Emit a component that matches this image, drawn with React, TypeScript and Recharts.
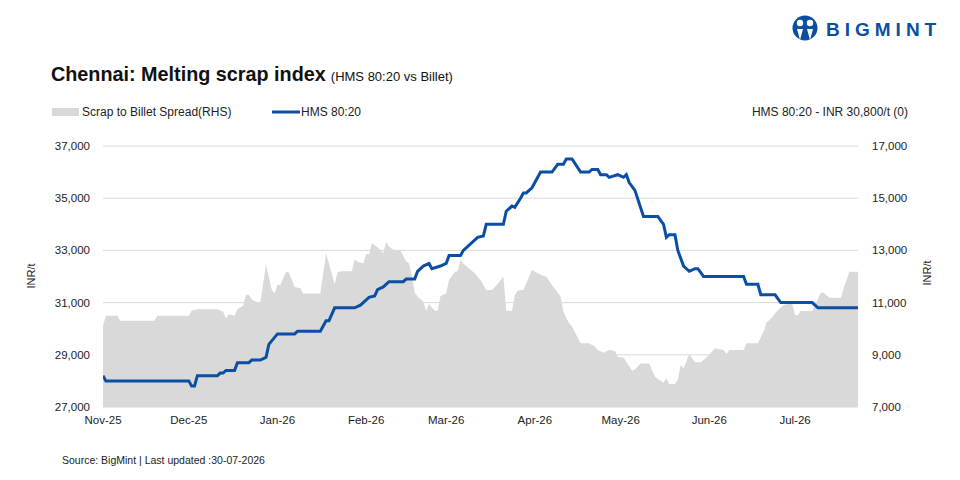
import React from "react";
import { ComposedChart, Area, Line, XAxis, YAxis, CartesianGrid } from "recharts";

// Days counted from 1 Nov 2025
const monthTicks = [0, 30, 61, 92, 120, 151, 181, 212, 242];
const monthLabels = ["Nov-25", "Dec-25", "Jan-26", "Feb-26", "Mar-26", "Apr-26", "May-26", "Jun-26", "Jul-26"];
const leftTicks = [27000, 29000, 31000, 33000, 35000, 37000];
const rightTicks = [7000, 9000, 11000, 13000, 15000, 17000];

const hmsDays = [0, 1, 30, 31, 32, 33, 40, 41, 42, 43, 46, 47, 51, 52, 55, 57, 58, 61, 67, 68, 76, 78, 79, 81, 88, 90, 91, 93, 95, 96, 98, 100, 105, 106, 109, 110, 112, 114, 115, 118, 120, 121, 125, 126, 129, 131, 133, 134, 140, 141, 143, 144, 146, 147, 148, 150, 153, 157, 159, 161, 162, 164, 167, 170, 171, 173, 174, 176, 177, 180, 182, 183, 184, 186, 189, 194, 196, 197, 198, 200, 201, 203, 205, 207, 208, 210, 224, 225, 229, 230, 235, 237, 248, 250, 264];
const hmsValues = [28200, 28000, 28000, 27800, 27800, 28200, 28200, 28300, 28300, 28400, 28400, 28700, 28700, 28800, 28800, 28900, 29400, 29800, 29800, 29900, 29900, 30300, 30300, 30800, 30800, 30900, 31000, 31200, 31250, 31500, 31600, 31800, 31800, 31900, 31900, 32200, 32400, 32500, 32300, 32400, 32500, 32800, 32800, 33000, 33300, 33500, 33550, 34000, 34000, 34500, 34700, 34650, 35000, 35200, 35200, 35400, 36000, 36000, 36300, 36300, 36500, 36500, 36000, 36000, 36100, 36100, 35900, 35900, 35800, 35900, 35800, 35900, 35600, 35300, 34300, 34300, 34000, 33500, 33600, 33600, 33000, 32400, 32200, 32300, 32300, 32000, 32000, 31700, 31700, 31300, 31300, 31000, 31000, 30800, 30800];

const spreadDays = [0, 1, 5, 6, 18, 19, 30, 31, 33, 40, 42, 43, 44, 46, 47, 49, 50, 51, 52, 54, 55, 57, 59, 60, 61, 62, 64, 65, 67, 69, 70, 76, 78, 81, 82, 83, 87, 88, 89, 91, 92, 93, 94, 96, 98, 99, 100, 102, 104, 106, 107, 108, 109, 110, 112, 113, 114, 116, 117, 118, 120, 121, 123, 124, 125, 126, 128, 130, 132, 134, 136, 138, 140, 141, 143, 144, 145, 147, 148, 150, 152, 154, 155, 157, 160, 161, 163, 164, 167, 170, 172, 173, 175, 177, 179, 180, 182, 185, 186, 188, 191, 193, 196, 197, 198, 200, 201, 202, 203, 205, 207, 209, 211, 214, 215, 217, 218, 219, 224, 225, 229, 231, 232, 234, 236, 238, 240, 241, 242, 243, 244, 248, 249, 251, 252, 254, 258, 259, 261, 264];
const spreadValues = [10100, 10500, 10500, 10300, 10300, 10500, 10500, 10700, 10750, 10750, 10650, 10400, 10550, 10500, 10750, 10880, 11300, 11300, 11130, 11000, 11000, 12450, 11500, 11350, 11670, 11670, 12180, 12150, 11600, 11550, 11350, 11350, 12900, 11700, 12150, 12200, 12200, 12650, 12570, 12500, 12860, 12850, 13270, 13120, 12890, 13330, 13140, 13010, 13000, 12570, 12500, 12000, 11380, 11230, 11030, 10690, 10950, 10690, 10690, 11250, 11350, 11870, 12180, 12200, 12630, 12500, 12310, 12120, 11870, 11480, 11480, 11710, 12000, 10690, 10690, 11290, 11460, 11480, 11740, 12250, 12120, 12020, 12000, 11670, 11230, 10650, 10200, 10080, 9440, 9440, 9310, 9180, 9080, 9180, 9150, 8930, 8900, 8390, 8440, 8670, 8670, 8160, 7930, 8100, 7880, 7880, 8030, 8610, 8480, 9030, 8710, 8710, 8900, 9250, 9220, 9180, 9030, 9180, 9180, 9440, 9440, 9890, 10230, 10440, 10720, 10910, 10970, 10950, 10520, 10520, 10680, 10680, 10910, 11380, 11380, 11190, 11190, 11550, 12180, 12180];

const hmsData = hmsDays.map((d, i) => ({ day: d, hms: hmsValues[i] }));
const spreadData = spreadDays.map((d, i) => ({ day: d, spread: spreadValues[i] }));

const BLUE = "#0a4fa3";
const GREY = "#d9d9d9";
const FONT = "'Liberation Sans', Arial, sans-serif";
const NARROW = "'Liberation Sans Narrow', 'Liberation Sans', Arial, sans-serif";

const fmt = (v: number) => v.toLocaleString("en-US");
const monthFmt = (v: number) => {
  const i = monthTicks.indexOf(v);
  return i >= 0 ? monthLabels[i] : "";
};

export default function App() {
  return (
    <div style={{ position: "absolute", left: 0, top: 0, width: 960, height: 480, background: "#fff" }}>
      <ComposedChart
        width={960}
        height={480}
        margin={{ top: 146, right: 0, bottom: 43, left: 0 }}
        style={{ position: "absolute", left: 0, top: 0 }}
      >
        <CartesianGrid vertical={false} stroke={GREY} strokeWidth={1} yAxisId="left" />
        <XAxis
          type="number"
          dataKey="day"
          domain={[0, 264]}
          ticks={monthTicks}
          tickFormatter={monthFmt}
          allowDataOverflow
          axisLine={false}
          tickLine={false}
          tickMargin={3}
          height={30}
          interval={0}
          tick={{ fontSize: 11.5, fill: "#222", fontFamily: NARROW }}
        />
        <YAxis
          yAxisId="left"
          orientation="left"
          width={103}
          domain={[27000, 37000]}
          ticks={leftTicks}
          tickFormatter={fmt}
          axisLine={false}
          tickLine={false}
          tickMargin={7}
          allowDataOverflow
          tick={{ fontSize: 11.5, fill: "#222", fontFamily: FONT }}
        />
        <YAxis
          yAxisId="right"
          orientation="right"
          width={102}
          domain={[7000, 17000]}
          ticks={rightTicks}
          tickFormatter={fmt}
          axisLine={false}
          tickLine={false}
          tickMargin={8}
          allowDataOverflow
          tick={{ fontSize: 11.5, fill: "#222", fontFamily: FONT }}
        />
        <Area
          yAxisId="right"
          data={spreadData}
          dataKey="spread"
          type="linear"
          stroke="none"
          fill={GREY}
          fillOpacity={1}
          isAnimationActive={false}
        />
        <Line
          yAxisId="left"
          data={hmsData}
          dataKey="hms"
          type="linear"
          stroke={BLUE}
          strokeWidth={3}
          dot={false}
          isAnimationActive={false}
        />
      </ComposedChart>
      <svg width={960} height={480} style={{ position: "absolute", left: 0, top: 0, pointerEvents: "none" }}>
        {/* logo */}
        <circle cx={805} cy={28} r={12.5} fill={BLUE} />
        <circle cx={800} cy={23} r={3.2} fill="#fff" />
        <circle cx={810} cy={23} r={3.2} fill="#fff" />
        <path d="M797 29 L800 40 L803 29 Z" fill="#fff" />
        <path d="M807 29 L810 40 L813 29 Z" fill="#fff" />
        <text x={826} y={36} fontFamily={FONT} fontWeight="bold" fontSize={19} letterSpacing={5} fill={BLUE}>BIGMINT</text>
        {/* title */}
        <text x={51} y={81} fontFamily={FONT} fill="#111">
          <tspan fontWeight="bold" fontSize={19.8}>Chennai: Melting scrap index</tspan>
          <tspan fontSize={13} dx={5}>(HMS 80:20 vs Billet)</tspan>
        </text>
        {/* legend */}
        <rect x={52} y={108} width={27} height={8} fill={GREY} />
        <text x={82} y={116} fontFamily={FONT} fontSize={12} fill="#222">Scrap to Billet Spread(RHS)</text>
        <line x1={272} y1={112} x2={300} y2={112} stroke={BLUE} strokeWidth={3} />
        <text x={301} y={116} fontFamily={FONT} fontSize={12} fill="#222">HMS 80:20</text>
        <text x={908} y={116} textAnchor="end" fontFamily={FONT} fontSize={12} fill="#222">HMS 80:20 - INR 30,800/t (0)</text>
        {/* axis titles */}
        <text x={0} y={0} transform="translate(35,276) rotate(-90)" textAnchor="middle" fontFamily={FONT} fontSize={11} fill="#222">INR/t</text>
        <text x={0} y={0} transform="translate(931,273) rotate(-90)" textAnchor="middle" fontFamily={FONT} fontSize={11} fill="#222">INR/t</text>
        {/* source */}
        <text x={62} y={464} fontFamily={NARROW} fontSize={10.5} fill="#222">Source: BigMint | Last updated :30-07-2026</text>
      </svg>
    </div>
  );
}
